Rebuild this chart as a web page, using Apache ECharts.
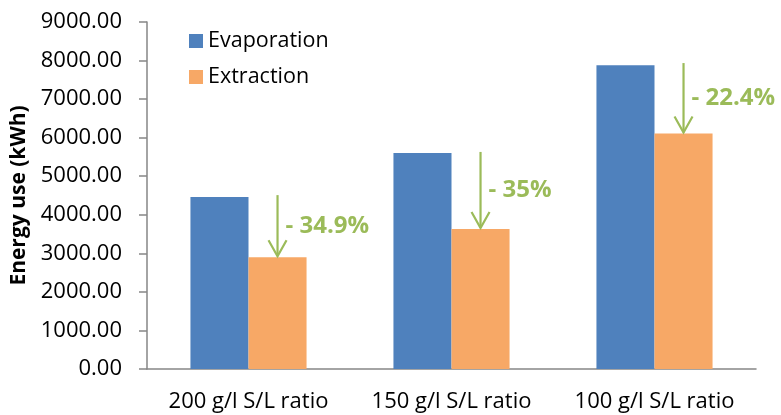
<!DOCTYPE html>
<html>
<head>
<meta charset="utf-8">
<script src="https://cdn.jsdelivr.net/npm/echarts@6/dist/echarts.min.js"></script>
<style>
  html, body { margin: 0; padding: 0; background: #fff; }
  #chart { width: 781px; height: 415px; }
</style>
</head>
<body>
<div id="chart"></div>
<script>
// data
const categories = ['200 g/l S/L ratio', '150 g/l S/L ratio', '100 g/l S/L ratio']
const evaporation = [4460, 5600, 7880]
const extraction = [2900, 3630, 6110]
// arrows: start just above the evaporation bar, end on the extraction bar
const arrowStart = [4510, 5630, 7935]
const arrowLabels = ['- 34.9%', '- 35%', '- 22.4%']

const FONT = '"Open Sans", sans-serif'
const GREEN = '#9BBB59'

let myChart = echarts.init(document.getElementById('chart'))

let arrowData = []
for (let i = 0; i < categories.length; i++) {
  arrowData.push([i, arrowStart[i], extraction[i], arrowLabels[i]])
}

let option = {
  animation: false,
  color: ['#4F81BD', '#F7A866'],
  grid: { left: 147, right: 25, top: 22, bottom: 46 },
  legend: {
    orient: 'vertical',
    left: 184,
    top: 25,
    itemWidth: 14,
    itemHeight: 14,
    itemGap: 14,
    icon: 'rect',
    textStyle: { fontFamily: FONT, fontSize: 21.5, color: '#000' },
    data: ['Evaporation', 'Extraction']
  },
  xAxis: {
    type: 'category',
    data: categories,
    axisLine: { lineStyle: { color: '#868686', width: 1.5 } },
    axisTick: { show: false },
    axisLabel: { interval: 0, color: '#000', fontFamily: FONT, fontSize: 22, margin: 22 }
  },
  yAxis: {
    type: 'value',
    min: 0,
    max: 9000,
    interval: 1000,
    name: 'Energy use (kWh)',
    nameLocation: 'middle',
    nameGap: 110,
    nameTextStyle: { fontFamily: FONT, fontSize: 21, fontWeight: 'bold', color: '#000' },
    axisLine: { show: true, lineStyle: { color: '#868686', width: 1.5 } },
    axisTick: { show: true, length: 8, lineStyle: { color: '#868686', width: 1.5 } },
    splitLine: { show: false },
    axisLabel: {
      color: '#000', fontFamily: FONT, fontSize: 22, margin: 25,
      formatter: v => v.toFixed(2)
    }
  },
  series: [
    { name: 'Evaporation', type: 'bar', data: evaporation, barWidth: '28.6%', barGap: '0%' },
    { name: 'Extraction', type: 'bar', data: extraction, barWidth: '28.6%', barGap: '0%' },
    {
      type: 'custom',
      data: arrowData,
      z: 10,
      renderItem: function (params, api) {
        let band = api.size([1, 0])[0]
        let p0 = api.coord([api.value(0), api.value(1)])
        let p1 = api.coord([api.value(0), api.value(2)])
        let x = p0[0] + band * 0.143
        let style = { stroke: GREEN, lineWidth: 2.2, fill: null }
        return {
          type: 'group',
          children: [
            { type: 'line', shape: { x1: x, y1: p0[1], x2: x, y2: p1[1] - 1 }, style: style },
            { type: 'polyline', shape: { points: [[x - 9, p1[1] - 17], [x, p1[1] - 1], [x + 9, p1[1] - 17]] }, style: style },
            {
              type: 'text',
              x: x + 8,
              y: (p0[1] + p1[1]) / 2,
              style: {
                text: arrowLabels[params.dataIndex],
                fill: GREEN,
                font: 'bold 24px ' + FONT,
                textAlign: 'left',
                textVerticalAlign: 'middle'
              }
            }
          ]
        }
      }
    }
  ]
}
myChart.setOption(option)
</script>
</body>
</html>
